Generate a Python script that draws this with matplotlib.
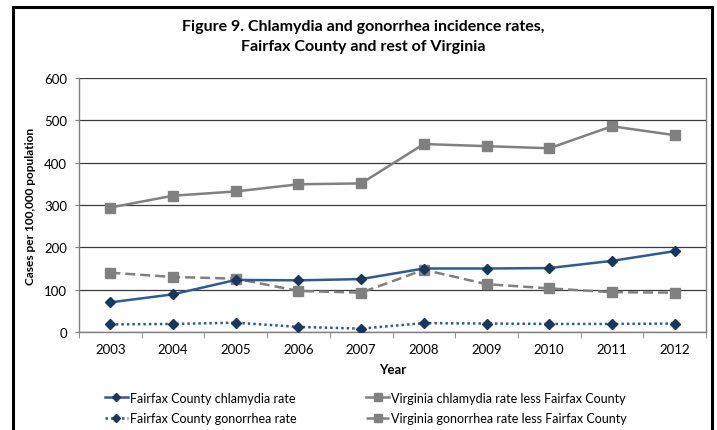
import matplotlib
matplotlib.use("Agg")
import matplotlib.pyplot as plt
from matplotlib.patches import Rectangle
import numpy as np

plt.rcParams['font.family'] = ['Lato', 'DejaVu Sans']

years = ['2003', '2004', '2005', '2006', '2007', '2008', '2009', '2010', '2011', '2012']
fairfax_chlamydia = [70, 89, 123, 122, 125, 150, 150, 151, 168, 191]
virginia_chlamydia = [294, 322, 332, 349, 351, 444, 439, 434, 486, 465]
fairfax_gonorrhea = [18, 19, 22, 12, 8, 21, 20, 19, 19, 20]
virginia_gonorrhea = [140, 130, 126, 97, 93, 147, 113, 103, 94, 93]

blue_line = '#2B5C9A'
blue_mark = '#17375E'
gray = '#808080'

W, H = 717, 431
fig = plt.figure(figsize=(W/100, H/100), dpi=100)
ax = fig.add_axes([79/W, 1-333/H, (706-79)/W, (333-79)/H])

x = np.arange(len(years))
ax.plot(x, fairfax_chlamydia, color=blue_line, lw=1.8, marker='D', ms=5,
        mfc=blue_mark, mec=blue_mark, label='Fairfax County chlamydia rate', zorder=4)
ax.plot(x, virginia_chlamydia, color=gray, lw=1.8, marker='s', ms=7,
        mfc=gray, mec=gray, label='Virginia chlamydia rate less Fairfax County', zorder=3)
ax.plot(x, fairfax_gonorrhea, color=blue_line, lw=1.8, ls=(0, (1, 1.2)), marker='D', ms=5,
        mfc=blue_mark, mec=blue_mark, label='Fairfax County gonorrhea rate', zorder=4)
ax.plot(x, virginia_gonorrhea, color=gray, lw=1.8, ls=(0, (4, 2)), marker='s', ms=7,
        mfc=gray, mec=gray, label='Virginia gonorrhea rate less Fairfax County', zorder=3)

ax.set_xlim(-0.5, len(years) - 0.5)
ax.set_ylim(0, 600)
ax.set_yticks(range(0, 601, 100))
ax.set_xticks(x)
ax.set_xticklabels(years, fontsize=9.5)
ax.set_xticks(np.arange(-0.5, len(years), 1), minor=True)
ax.tick_params(axis='x', which='major', length=0, pad=8)
ax.tick_params(axis='x', which='minor', length=4, color='#808080', direction='out')
ax.tick_params(axis='y', length=3, color='#808080', labelsize=9.5, pad=5.5)
ax.grid(axis='y', color='#3a3a3a', lw=0.9, zorder=0)
ax.set_axisbelow(True)
for s in ax.spines.values():
    s.set_color('#808080')
    s.set_linewidth(1)
ax.spines['top'].set_visible(False)

ax.set_xlabel('Year', fontsize=9.5, fontweight='bold', labelpad=6)
ax.set_ylabel('Cases per 100,000 population', fontsize=8.6, fontweight='bold', labelpad=6)

fig.text(363/W, 1-27/H, 'Figure 9. Chlamydia and gonorrhea incidence rates,',
         ha='center', va='center', fontsize=11.5, fontweight='bold')
fig.text(363/W, 1-47/H, 'Fairfax County and rest of Virginia',
         ha='center', va='center', fontsize=11.5, fontweight='bold')

handles, labels = ax.get_legend_handles_labels()
order = [0, 2, 1, 3]
leg = fig.legend([handles[i] for i in order], [labels[i] for i in order],
                 loc='center', bbox_to_anchor=(366/W, 1-409/H), ncol=2, frameon=False,
                 fontsize=9, handlelength=1.84, handletextpad=0.15, columnspacing=5.6,
                 labelspacing=0.7, markerscale=0.8)

fig.patches.append(Rectangle((13/W, -0.05), (712-13)/W, 1-8/H + 0.05,
                             transform=fig.transFigure, fill=False, ec='black', lw=2.2))

fig.savefig('out.png', dpi=100)
